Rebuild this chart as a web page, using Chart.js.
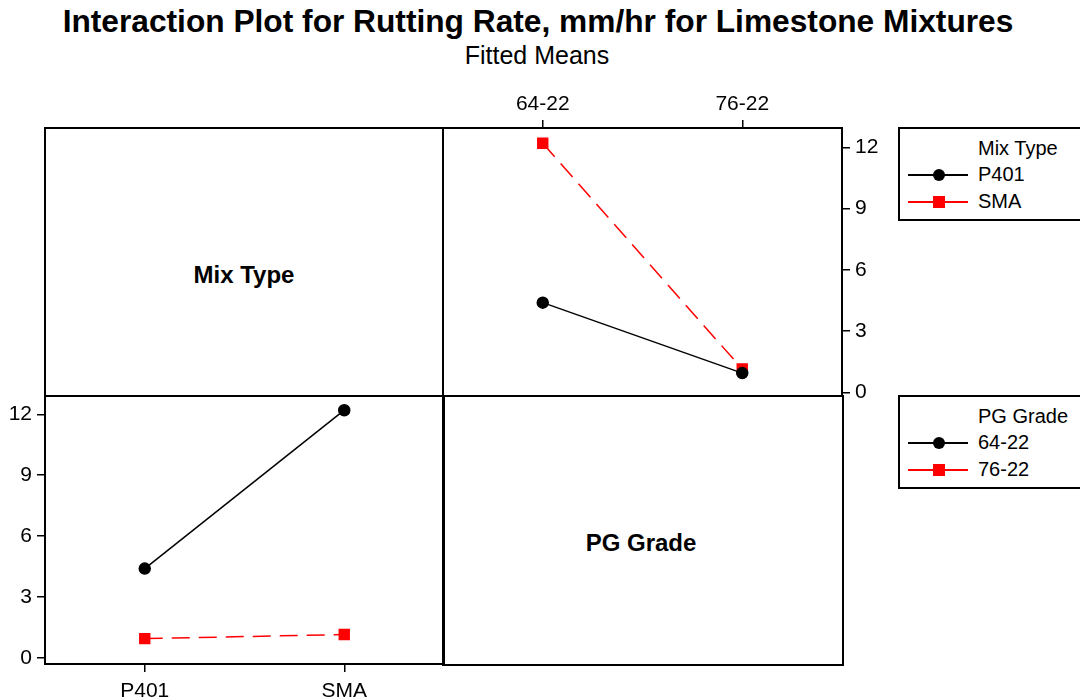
<!DOCTYPE html>
<html>
<head>
<meta charset="utf-8">
<script src="https://cdn.jsdelivr.net/npm/chart.js@4.4.1/dist/chart.umd.min.js"></script>
<style>
    body { margin: 0; background: #fff; font-family: "Liberation Sans", Arial, sans-serif; color: #000; }
    #page { position: relative; width: 1080px; height: 700px; overflow: hidden; }
    .title { position: absolute; left: 0; width: 1076px; top: 3px; text-align: center; font-weight: bold; font-size: 31.7px; }
    .subtitle { position: absolute; left: 0; width: 1074px; top: 41px; text-align: center; font-size: 25px; }
    .panel { position: absolute; box-sizing: border-box; border: 2px solid #000; }
    .panel-label { position: absolute; font-weight: bold; font-size: 24px; transform: translate(-50%, -50%); white-space: nowrap; }
    .legend { position: absolute; box-sizing: border-box; border: 2px solid #000; background: #fff; font-size: 20px; }
    .legend .head { position: absolute; left: 78px; top: 8px; }
    .legend .row { position: absolute; left: 8px; height: 20px; }
    .legend .row svg { position: absolute; left: 0; top: 0; }
    .legend .row span { position: absolute; left: 70px; top: -2px; white-space: nowrap; }
    .chart-box { position: absolute; }
</style>
</head>
<body>
<div id="page">
    <div class="title">Interaction Plot for Rutting Rate, mm/hr for Limestone Mixtures</div>
    <div class="subtitle">Fitted Means</div>

    <div class="panel" style="left:44px; top:127px; width:400px; height:270px;"></div>
    <div class="panel-label" style="left:244px; top:275px;">Mix Type</div>
    <div class="panel" style="left:442px; top:395px; width:402px; height:271px;"></div>
    <div class="panel-label" style="left:641px; top:543px;">PG Grade</div>

    <div class="chart-box" style="left:438px; top:80px; width:462px; height:320px;"><canvas id="gradeChart"></canvas></div>
    <div class="chart-box" style="left:0px; top:390px; width:452px; height:310px;"><canvas id="mixChart"></canvas></div>

    <div class="legend" id="legendMix" style="left:898px; top:127px; width:190px; height:94px;"></div>
    <div class="legend" id="legendGrade" style="left:898px; top:395px; width:190px; height:94px;"></div>
</div>

<script>
// Dane (średnie dopasowane, mm/hr)
const pgGrades = ['64-22', '76-22'];
const mixTypes = ['P401', 'SMA'];
const p401ByGrade = [4.4, 0.95];
const smaByGrade = [12.2, 1.15];
const grade6422ByMix = [4.4, 12.2];
const grade7622ByMix = [0.95, 1.15];
const yTicks = [0, 3, 6, 9, 12];

const TICK_FONT = { family: '"Liberation Sans", Arial, sans-serif', size: 21 };

// Ramka wokół obszaru wykresu
const framePlugin = {
    id: 'frame',
    afterDraw(chart) {
        const a = chart.chartArea;
        const ctx = chart.ctx;
        ctx.save();
        ctx.strokeStyle = '#000';
        ctx.lineWidth = 2;
        ctx.strokeRect(a.left, a.top, a.right - a.left, a.bottom - a.top);
        ctx.restore();
    }
};

// Bez dodatkowego marginesu na etykiety - obszar wykresu ma stały rozmiar
function noPadding(axis) {
    axis.paddingLeft = 0;
    axis.paddingRight = 0;
    axis.paddingTop = 0;
    axis.paddingBottom = 0;
}

function blackSeries(label, data) {
    return {
        label: label,
        data: data,
        borderColor: '#000',
        backgroundColor: '#000',
        borderWidth: 1.5,
        pointStyle: 'circle',
        pointRadius: 5.5,
        pointHoverRadius: 5.5
    };
}

function redSeries(label, data) {
    return {
        label: label,
        data: data,
        borderColor: '#ff0000',
        backgroundColor: '#ff0000',
        borderWidth: 1.5,
        borderDash: [18, 9],
        pointStyle: 'rect',
        pointRadius: 7,
        pointHoverRadius: 7
    };
}

function yAxis(position, min, max, width) {
    return {
        position: position,
        min: min,
        max: max,
        afterBuildTicks: axis => { axis.ticks = yTicks.map(v => ({ value: v })); },
        afterFit: axis => { axis.width = width; noPadding(axis); },
        ticks: { color: '#000', font: TICK_FONT, padding: 5 },
        grid: { drawOnChartArea: false, drawTicks: true, tickLength: 8, color: '#000', lineWidth: 1.5 },
        border: { display: true, color: '#000', width: 2 }
    };
}

function xAxis(position, labels, height, padding) {
    return {
        type: 'category',
        position: position,
        labels: labels,
        offset: true,
        afterFit: axis => { axis.height = height; noPadding(axis); },
        ticks: { color: '#000', font: TICK_FONT, padding: padding, maxRotation: 0 },
        grid: { drawOnChartArea: false, drawTicks: true, tickLength: 8, color: '#000', lineWidth: 1.5, offset: false },
        border: { display: true, color: '#000', width: 2 }
    };
}

function renderGradeChart() {
    const ctx = document.getElementById('gradeChart').getContext('2d');
    new Chart(ctx, {
        type: 'line',
        data: {
            labels: pgGrades,
            datasets: [
                blackSeries('P401', p401ByGrade),
                redSeries('SMA', smaByGrade)
            ]
        },
        options: {
            responsive: true,
            maintainAspectRatio: false,
            animation: false,
            layout: { autoPadding: false, padding: { left: 5, right: 0, top: 0, bottom: 4 } },
            plugins: { legend: { display: false }, tooltip: { enabled: false } },
            scales: {
                x: xAxis('top', pgGrades, 48, 3),
                y: yAxis('right', -0.17, 12.95, 58)
            }
        },
        plugins: [framePlugin]
    });
}

function renderMixChart() {
    const ctx = document.getElementById('mixChart').getContext('2d');
    new Chart(ctx, {
        type: 'line',
        data: {
            labels: mixTypes,
            datasets: [
                blackSeries('64-22', grade6422ByMix),
                redSeries('76-22', grade7622ByMix)
            ]
        },
        options: {
            responsive: true,
            maintainAspectRatio: false,
            animation: false,
            layout: { autoPadding: false, padding: { left: 0, right: 8, top: 6, bottom: 0 } },
            plugins: { legend: { display: false }, tooltip: { enabled: false } },
            scales: {
                x: xAxis('bottom', mixTypes, 36, 7),
                y: yAxis('left', -0.3, 12.9, 45)
            }
        },
        plugins: [framePlugin]
    });
}

// Legenda w stylu Minitab (HTML)
function renderLegend(id, title, labels) {
    const box = document.getElementById(id);
    let html = `<div class="head">${title}</div>`;
    labels.forEach((label, i) => {
        const color = i === 0 ? '#000' : '#ff0000';
        const marker = i === 0
            ? `<circle cx="31" cy="10" r="6" fill="${color}"/>`
            : `<rect x="25" y="4" width="12" height="12" fill="${color}"/>`;
        html += `
            <div class="row" style="top:${36 + i * 27}px;">
                <svg width="62" height="20"><line x1="0" y1="10" x2="60" y2="10" stroke="${color}" stroke-width="2"/>${marker}</svg>
                <span>${label}</span>
            </div>`;
    });
    box.innerHTML = html;
}

renderGradeChart();
renderMixChart();
renderLegend('legendMix', 'Mix Type', mixTypes);
renderLegend('legendGrade', 'PG Grade', pgGrades);
</script>
</body>
</html>
